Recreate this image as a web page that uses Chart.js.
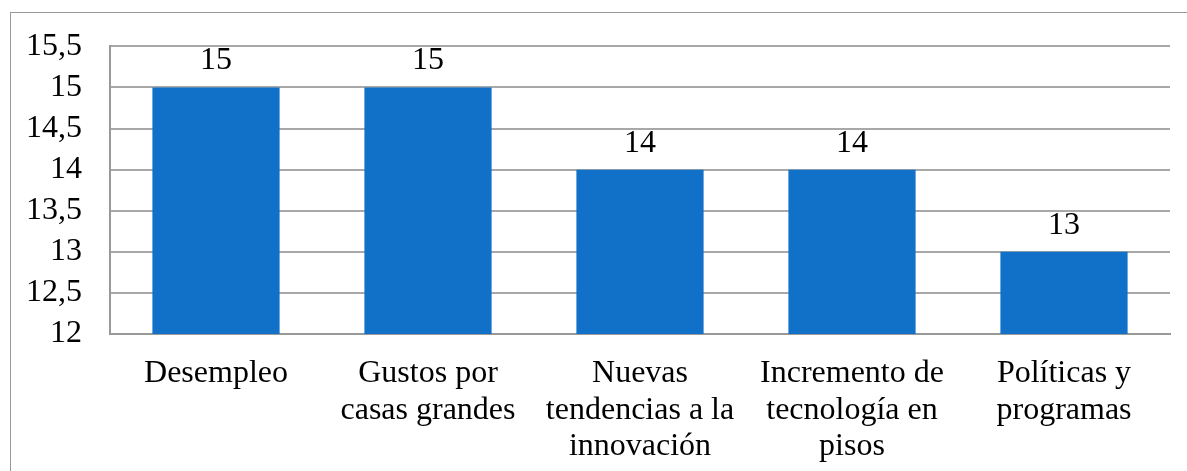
<!DOCTYPE html>
<html>
<head>
<meta charset="utf-8">
<script src="https://cdn.jsdelivr.net/npm/chart.js@4"></script>
<style>
  body { margin: 0; background: #fff; }
  #frame {
    position: absolute; left: 10px; top: 12px; width: 1300px; height: 600px;
    border-left: 1px solid #999; border-top: 1px solid #999;
  }
  #myChart { position: absolute; left: 0; top: 0; }
</style>
</head>
<body>
<div id="frame"></div>
<canvas id="myChart" width="1187" height="471"></canvas>
<script>
const categorias = [
  ['Desempleo'],
  ['Gustos por', 'casas grandes'],
  ['Nuevas', 'tendencias a la', 'innovación'],
  ['Incremento de', 'tecnología en', 'pisos'],
  ['Políticas y', 'programas']
]
const valores = [15, 15, 14, 14, 13]
const ejeMin = 12
const ejeMax = 15.5
const paso = 0.5

const fuente = { family: "'Liberation Serif', 'Times New Roman', serif", size: 32, lineHeight: 1.15 }

// numero encima de cada barra
const etiquetas = {
  id: 'etiquetas',
  afterDatasetsDraw(chart) {
    const ctx = chart.ctx
    const meta = chart.getDatasetMeta(0)
    ctx.save()
    ctx.font = "32px 'Liberation Serif', 'Times New Roman', serif"
    ctx.fillStyle = '#000'
    ctx.textAlign = 'center'
    ctx.textBaseline = 'alphabetic'
    meta.data.forEach(function(bar, i) {
      ctx.fillText(String(valores[i]), bar.x, bar.y - 18)
    })
    ctx.restore()
  }
}

const ctx = document.getElementById('myChart')

new Chart(ctx, {
  type: 'bar',
  data: {
    labels: categorias,
    datasets: [{
      data: valores,
      backgroundColor: '#1170c8',
      borderWidth: 0,
      barPercentage: 0.6,
      categoryPercentage: 1
    }]
  },
  options: {
    responsive: false,
    animation: false,
    layout: { padding: { left: 0, top: 43, right: 17, bottom: 0 } },
    plugins: {
      legend: { display: false },
      tooltip: { enabled: false }
    },
    scales: {
      x: {
        grid: { display: false, drawTicks: false },
        border: { display: true, color: '#999', width: 2 },
        ticks: { color: '#000', font: fuente, padding: 21, maxRotation: 0, autoSkip: false },
        afterFit(scale) { scale.height = 137 }
      },
      y: {
        min: ejeMin,
        max: ejeMax,
        grid: { color: '#a8a8a8', lineWidth: 2, drawTicks: false },
        border: { display: true, color: '#999', width: 2 },
        ticks: {
          stepSize: paso,
          color: '#000',
          font: fuente,
          padding: 28,
          callback: function(v) { return String(v).replace('.', ',') }
        },
        afterFit(scale) { scale.width = 110 }
      }
    }
  },
  plugins: [etiquetas]
})
</script>
</body>
</html>
